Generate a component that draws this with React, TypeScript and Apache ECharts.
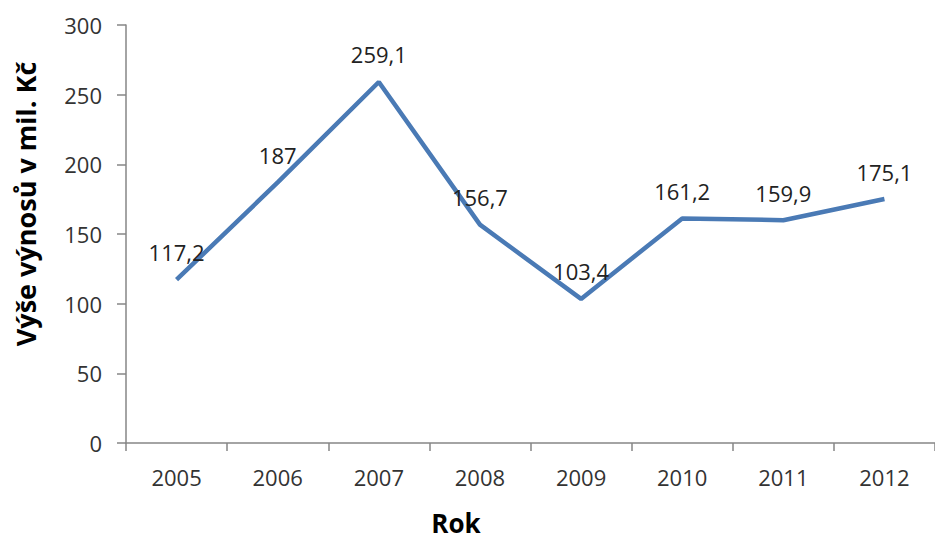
import React, { useEffect, useRef } from "react";
import * as echarts from "echarts";

const years = ["2005", "2006", "2007", "2008", "2009", "2010", "2011", "2012"];
const revenue = [117.2, 187, 259.1, 156.7, 103.4, 161.2, 159.9, 175.1];
const yTitle = "Výše výnosů v mil. Kč";
const xTitle = "Rok";

const FONT = "'Open Sans', 'DejaVu Sans', sans-serif";

export default function App() {
  const ref = useRef<HTMLDivElement>(null);
  useEffect(() => {
    if (!ref.current) return;
    const chart = echarts.init(ref.current, undefined, { renderer: "svg" });
    chart.setOption({
      animation: false,
      backgroundColor: "#ffffff",
      grid: { left: 126, top: 25, width: 816, bottom: 99, containLabel: false },
      xAxis: {
        type: "category",
        data: years,
        boundaryGap: true,
        axisLine: { lineStyle: { color: "#868686", width: 1.5 } },
        axisTick: { show: true, length: 8, lineStyle: { color: "#868686", width: 1.5 } },
        axisLabel: { color: "#333", fontFamily: FONT, fontSize: 22, margin: 23 },
        splitLine: { show: false },
      },
      yAxis: {
        type: "value",
        min: 0,
        max: 300,
        interval: 50,
        axisLine: { show: true, lineStyle: { color: "#868686", width: 1.5 } },
        axisTick: { show: true, length: 9, lineStyle: { color: "#868686", width: 1.5 } },
        axisLabel: { color: "#333", fontFamily: FONT, fontSize: 22, margin: 24 },
        splitLine: { show: false },
      },
      series: [
        {
          type: "line",
          data: revenue,
          symbol: "circle",
          symbolSize: 1,
          showSymbol: true,
          itemStyle: { color: "rgba(0,0,0,0)" },
          lineStyle: { color: "#4a7ab5", width: 4.5 },
          label: {
            show: true,
            position: "top",
            distance: 16,
            color: "#222",
            fontFamily: FONT,
            fontSize: 22,
            formatter: (p: any) => String(p.value).replace(".", ","),
          },
        },
      ],
      graphic: [
        {
          type: "text",
          x: 25,
          y: 204,
          rotation: Math.PI / 2,
          style: {
            text: yTitle,
            fontFamily: FONT,
            fontSize: 27,
            fontWeight: "bold",
            fill: "#000",
            textAlign: "center",
            textVerticalAlign: "middle",
          },
        },
        {
          type: "text",
          x: 456,
          y: 536,
          style: {
            text: xTitle,
            fontFamily: FONT,
            fontSize: 26,
            fontWeight: "bold",
            fill: "#000",
            textAlign: "center",
            textVerticalAlign: "bottom",
          },
        },
      ],
    });
    return () => chart.dispose();
  }, []);
  return <div ref={ref} style={{ width: 935, height: 542, position: "absolute", left: 0, top: 0 }} />;
}
